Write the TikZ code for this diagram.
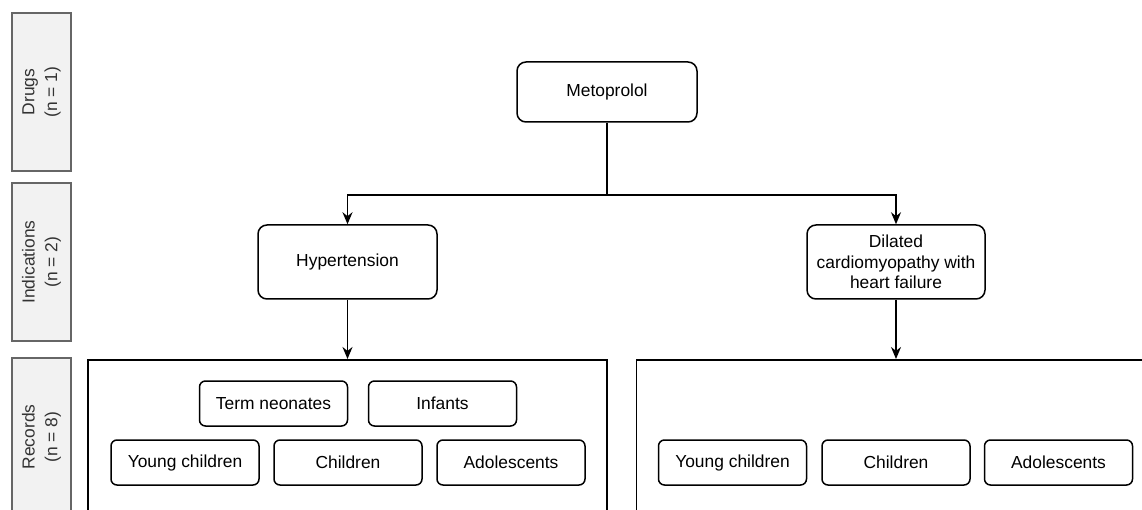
\documentclass[tikz,border=0pt]{standalone}
\usepackage{fontspec}
\setmainfont{Liberation Sans}
\usetikzlibrary{calc,arrows.meta}

\tikzset{
    stage/.style={draw=black!60, fill=black!5, line width=1.2pt, rotate=90,
        minimum width=158pt, minimum height=59pt, align=center,
        text=black!80, inner sep=0pt},
    item/.style={draw, rounded corners=9pt, line width=1.5pt, align=center,
        inner sep=0pt, minimum height=74pt},
    agegroup/.style={draw, rounded corners=6pt, line width=1.5pt,
        minimum width=148pt, minimum height=45pt, inner sep=0pt},
    group/.style={draw, line width=1.5pt, anchor=north, inner sep=0pt,
        minimum width=519pt, minimum height=180pt},
    link/.style={line width=1.5pt, -{Stealth[length=12pt,width=10pt]}}
}

\begin{document}
\begin{tikzpicture}[x=1pt, y=1pt, every node/.style={font=\fontsize{17.4pt}{20.7pt}\selectfont}]
    \useasboundingbox (0,0) rectangle (1142,-510);

    % stages
    \node[stage] (stage_drug) at (41.5, -92) {Drugs\\[2pt](n = 1)};
    \node[stage] (stage_ind) at (41.5, -262) {Indications\\[2pt](n = 2)};
    \node[stage] (stage_rec) at (41.5, -437) {Records\\[2pt](n = 8)};

    % drug
    \node[item, minimum width=180pt, minimum height=60pt] (drug_met) at (607, -92) {Metoprolol};
    \coordinate (split) at (607, -195);

    % indications
    \node[item, minimum width=179pt] (ind_hyp) at (347.5, -262) {Hypertension};
    \node[item, minimum width=178pt] (ind_dcm) at (896, -262)
    {Dilated\\cardiomyopathy with\\heart failure};

    % records
    \node[group] (rec_hyp) at (347.5, -359) {};
    \node[group] (rec_dcm) at (896, -359) {};

    \node[agegroup] (hyp_term) at ($(rec_hyp.north) + (-74, -44.5)$) {Term neonates};
    \node[agegroup] (hyp_inf) at ($(rec_hyp.north) + (95, -44.5)$) {Infants};
    \node[agegroup] (hyp_young) at ($(rec_hyp.north) + (-162.5, -103.5)$) {Young children};
    \node[agegroup] (hyp_child) at ($(rec_hyp.north) + (0.5, -103.5)$) {Children};
    \node[agegroup] (hyp_adol) at ($(rec_hyp.north) + (163.5, -103.5)$) {Adolescents};

    \node[agegroup] (dcm_young) at ($(rec_dcm.north) + (-163.5, -103.5)$) {Young children};
    \node[agegroup] (dcm_child) at ($(rec_dcm.north) + (0, -103.5)$) {Children};
    \node[agegroup] (dcm_adol) at ($(rec_dcm.north) + (162.5, -103.5)$) {Adolescents};

    % connectors
    \draw[line width=1.5pt] (drug_met.south) -- (split);
    \draw[link] (split) -| (ind_hyp.north);
    \draw[link] (split) -| (ind_dcm.north);
    \draw[link] (ind_hyp.south) -- (rec_hyp.north);
    \draw[link] (ind_dcm.south) -- (rec_dcm.north);
\end{tikzpicture}
\end{document}
